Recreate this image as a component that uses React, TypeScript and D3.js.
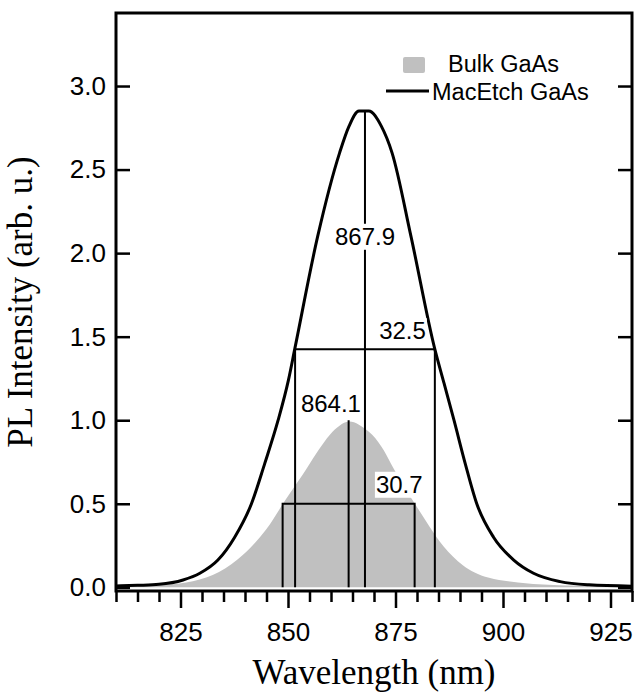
import * as React from 'react';
import * as d3 from 'd3';

const WIDTH = 642;
const HEIGHT = 695;
const MARGIN = { top: 13, right: 10, bottom: 104, left: 116 };

// MacEtch GaAs (black line)
const macWavelength = [810, 815, 820, 825.6, 829.5, 833.7, 837.6, 841.5, 844.6, 847.7, 850.1, 851.6, 856.9, 862, 864.2, 866.5, 868.8, 871.7, 874.2, 878.6, 884.1, 886.3, 888.6, 891.2, 893.9, 897.8, 902.5, 907.1, 913.3, 920, 930];
const macIntensity = [0.008, 0.012, 0.018, 0.044, 0.084, 0.163, 0.3, 0.5, 0.742, 1.0, 1.24, 1.43, 2.1, 2.6, 2.76, 2.85, 2.85, 2.76, 2.6, 2.1, 1.43, 1.22, 1.0, 0.742, 0.5, 0.3, 0.163, 0.084, 0.034, 0.015, 0.007];

// Bulk GaAs (grey area)
const bulkWavelength = [810, 816, 821.6, 827.9, 834.1, 839.4, 845.2, 848.7, 852, 854.6, 857, 859.8, 862, 864.1, 866.3, 869.7, 872.4, 874.3, 876.8, 879.5, 882.9, 886, 890.6, 896, 906, 915, 930];
const bulkIntensity = [0.004, 0.007, 0.013, 0.03, 0.084, 0.183, 0.343, 0.5, 0.62, 0.72, 0.82, 0.92, 0.97, 1.0, 0.98, 0.92, 0.82, 0.72, 0.61, 0.5, 0.363, 0.243, 0.123, 0.05, 0.02, 0.01, 0.004];

// peak / FWHM annotations
const macPeak = 867.9;
const macFwhm = 32.5;
const macMax = 2.85;
const bulkPeak = 864.1;
const bulkFwhm = 30.7;
const bulkMax = 1.0;

const xMajorTicks = [825, 850, 875, 900, 925];
const yTicks = [0, 0.5, 1.0, 1.5, 2.0, 2.5, 3.0];

const SANS = 'Arial, "Liberation Sans", sans-serif';
const SERIF = '"Times New Roman", "Liberation Serif", serif';

export default function App() {
  const ref = React.useRef<SVGSVGElement>(null);

  React.useEffect(() => {
    const svg = d3.select(ref.current);
    svg.selectAll('*').remove();

    const innerW = WIDTH - MARGIN.left - MARGIN.right;
    const innerH = HEIGHT - MARGIN.top - MARGIN.bottom;

    const x = d3.scaleLinear().domain([810, 930]).range([0, innerW]);
    const y = d3.scaleLinear().domain([-0.022, 3.437]).range([innerH, 0]);

    const g = svg.append('g').attr('transform', `translate(${MARGIN.left},${MARGIN.top})`);

    g.append('clipPath').attr('id', 'plotClip')
      .append('rect').attr('width', innerW).attr('height', innerH);

    const plot = g.append('g').attr('clip-path', 'url(#plotClip)');

    const bulk = bulkWavelength.map((w, i) => [w, bulkIntensity[i]] as [number, number]);
    const mac = macWavelength.map((w, i) => [w, macIntensity[i]] as [number, number]);

    const area = d3.area<[number, number]>()
      .x(d => x(d[0]))
      .y0(y(0))
      .y1(d => y(d[1]))
      .curve(d3.curveBasis);

    plot.append('path').datum(bulk).attr('d', area).attr('fill', '#c0c0c0');

    // FWHM boxes and peak lines
    const ann = plot.append('g').attr('stroke', '#000').attr('stroke-width', 2).attr('fill', 'none');
    const drawFwhm = (peak: number, fwhm: number, max: number) => {
      const lo = peak - fwhm / 2;
      const hi = peak + fwhm / 2;
      ann.append('path').attr('d', `M${x(lo)},${y(0)}V${y(max / 2)}H${x(hi)}V${y(0)}`);
      ann.append('line').attr('x1', x(peak)).attr('x2', x(peak)).attr('y1', y(0)).attr('y2', y(max));
    };
    drawFwhm(bulkPeak, bulkFwhm, bulkMax);
    drawFwhm(macPeak, macFwhm, macMax);

    const line = d3.line<[number, number]>()
      .x(d => x(d[0]))
      .y(d => y(d[1]))
      .curve(d3.curveMonotoneX);

    plot.append('path').datum(mac).attr('d', line)
      .attr('fill', 'none').attr('stroke', '#000').attr('stroke-width', 3)
      .attr('stroke-linejoin', 'round');

    // value labels
    const label = (text: string, lx: number, ly: number, anchor: string) => {
      const t = g.append('text').attr('x', lx).attr('y', ly)
        .attr('text-anchor', anchor).attr('font-family', SANS).attr('font-size', 24)
        .text(text);
      const b = (t.node() as SVGTextElement).getBBox();
      g.insert('rect', () => t.node())
        .attr('x', b.x - 1).attr('y', b.y + 1).attr('width', b.width + 2).attr('height', b.height - 1)
        .attr('fill', '#fff');
    };
    label(macPeak.toFixed(1), x(macPeak), y(2.05), 'middle');
    label(macFwhm.toFixed(1), x(macPeak + macFwhm / 2) - 9, y(macMax / 2) - 10, 'end');
    label(bulkPeak.toFixed(1), x(macPeak) - 4, y(1.05), 'end');
    label(bulkFwhm.toFixed(1), x(bulkPeak + bulkFwhm / 2) + 8, y(bulkMax / 2) - 11, 'end');

    // axes
    const styleAxis = (sel: d3.Selection<SVGGElement, unknown, null, undefined>) => {
      sel.select('.domain').remove();
      sel.selectAll('line').attr('stroke', '#000').attr('stroke-width', 2.5);
      sel.selectAll('text').attr('font-family', SANS).attr('font-size', 26).attr('fill', '#000');
    };

    const minor = d3.range(810, 931, 5).filter(v => !xMajorTicks.includes(v));
    g.append('g').attr('transform', `translate(0,${innerH})`)
      .call(d3.axisBottom(x).tickValues(minor).tickSize(11).tickFormat(() => ''))
      .call(styleAxis);
    g.append('g').attr('transform', `translate(0,${innerH})`)
      .call(d3.axisBottom(x).tickValues(xMajorTicks).tickSize(17).tickPadding(15).tickFormat(d3.format('d')))
      .call(styleAxis);

    g.append('g')
      .call(d3.axisLeft(y).tickValues(yTicks).tickSize(-14).tickPadding(10).tickFormat(d3.format('.1f')))
      .call(styleAxis);
    g.append('g').attr('transform', `translate(${innerW},0)`)
      .call(d3.axisRight(y).tickValues(yTicks).tickSize(-14).tickFormat(() => ''))
      .call(styleAxis);

    g.append('rect').attr('width', innerW).attr('height', innerH)
      .attr('fill', 'none').attr('stroke', '#000').attr('stroke-width', 3);

    // legend
    const lg = g.append('g').attr('font-family', SANS).attr('font-size', 23.5);
    lg.append('rect').attr('x', 287).attr('y', 44).attr('width', 22).attr('height', 16)
      .attr('rx', 2).attr('fill', '#c0c0c0');
    lg.append('text').attr('x', 332).attr('y', 59).text('Bulk GaAs');
    lg.append('line').attr('x1', 270).attr('x2', 313).attr('y1', 78).attr('y2', 78)
      .attr('stroke', '#000').attr('stroke-width', 3);
    lg.append('text').attr('x', 316).attr('y', 87).text('MacEtch GaAs');

    // axis titles
    g.append('text')
      .attr('x', innerW / 2).attr('y', innerH + 93)
      .attr('text-anchor', 'middle').attr('font-family', SERIF).attr('font-size', 35)
      .text('Wavelength (nm)');
    g.append('text')
      .attr('transform', `translate(${-84},${innerH / 2}) rotate(-90)`)
      .attr('text-anchor', 'middle').attr('font-family', SERIF).attr('font-size', 35)
      .text('PL Intensity (arb. u.)');
  }, []);

  return (
    <svg
      ref={ref}
      width={WIDTH}
      height={HEIGHT}
      style={{ position: 'absolute', left: 0, top: 0, background: '#fff' }}
    />
  );
}
